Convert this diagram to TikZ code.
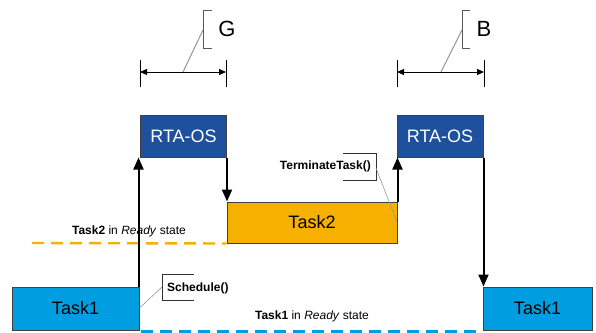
\documentclass[tikz,border=0pt]{standalone}
\usepackage{fontspec}
\setmainfont{Liberation Sans}
\usetikzlibrary{arrows.meta}
\definecolor{osblue}{RGB}{31,80,158}
\definecolor{taskone}{RGB}{0,158,224}
\definecolor{tasktwo}{RGB}{246,176,0}
\definecolor{leader}{RGB}{150,150,150}
\begin{document}
\begin{tikzpicture}[x=1pt,y=-1pt,
  blk/.style={draw=black!75, line width=1pt, inner sep=0pt, font=\fontsize{18}{20}\selectfont},
  osbox/.style={blk, fill=osblue, text=white, minimum width=86pt, minimum height=42pt},
  flow/.style={line width=2pt, -{Triangle[width=10pt,length=12pt]}},
  lbl/.style={inner sep=0pt, font=\fontsize{12}{14}\selectfont},
  call/.style={draw=black!80, line width=0.7pt},
  lead/.style={draw=leader, line width=0.6pt},
  dim/.style={line width=1pt},
  dimarr/.style={line width=1pt, {Triangle[width=6pt,length=7pt]}-{Triangle[width=6pt,length=7pt]}},
  big/.style={inner sep=0pt, font=\fontsize{22}{24}\selectfont}]
\useasboundingbox (0,0) rectangle (596,332);

% boxes
\node[osbox] (RTA1) at (183.5,136) {RTA-OS};
\node[osbox] (RTA2) at (440,136) {RTA-OS};
\node[blk, fill=taskone, minimum width=127pt, minimum height=43pt] (T1L) at (75.5,308.5) {Task1};
\node[blk, fill=tasktwo, minimum width=170pt, minimum height=41pt] (T2) at (312,222.5) {Task2};
\node[blk, fill=taskone, minimum width=109pt, minimum height=43pt] (T1R) at (537.5,308.5) {Task1};

% dashed ready lines
\coordinate (o1) at (32,243);
\draw[tasktwo, line width=2.4pt, dash pattern=on 12pt off 7pt] (o1) -- (T2.south west);
\draw[taskone, line width=2.4pt, dash pattern=on 12pt off 7pt] ([xshift=1pt,yshift=-1pt]T1L.south east) -- ([yshift=-1pt]T1R.south west);

% flow arrows
\draw[flow] ([xshift=-1pt]T1L.north east) -- ([xshift=-1pt]T1L.north east |- RTA1.south);
\draw[flow] (RTA1.south east) -- (RTA1.south east |- T2.north);
\draw[flow] (T2.north east) -- (T2.north east |- RTA2.south);
\draw[flow] (RTA2.south east) -- (RTA2.south east |- T1R.north);

% labels
\node[lbl] (L2) at (129,231) {\textbf{Task2} in \textit{Ready} state};
\node[lbl] (L1) at (312,316) {\textbf{Task1} in \textit{Ready} state};

% Schedule() callout
\coordinate (s1) at (194,274);
\coordinate (s2) at (162,274);
\coordinate (s3) at (162,300);
\coordinate (s4) at (194,300);
\coordinate (s5) at (162,287);
\draw[call] (s1) -- (s2) -- (s3) -- (s4);
\node[lbl, anchor=west] (sched) at (167,288) {\textbf{Schedule()}};
\draw[lead] ([yshift=-1pt]T1L.east |- 0,307) -- (s5);

% TerminateTask() callout
\coordinate (t1) at (343,153);
\coordinate (t2) at (376,153);
\coordinate (t3) at (376,180);
\coordinate (t4) at (343,180);
\coordinate (t5) at (376,168);
\coordinate (t6) at (397,222);
\draw[call] (t1) -- (t2) -- (t3) -- (t4);
\node[lbl, anchor=east] (term) at (371,166) {\textbf{TerminateTask()}};
\draw[lead] (t5) -- (t6);

% dimension G
\coordinate (ga) at (140,60); \coordinate (gb) at (140,87);
\coordinate (gc) at (226,60); \coordinate (gd) at (226,87);
\coordinate (ge) at (140,72); \coordinate (gf) at (226,72);
\coordinate (gm) at (183,72); \coordinate (gk) at (203,30);
\coordinate (gt1) at (212,10); \coordinate (gt2) at (203,10);
\coordinate (gt3) at (203,48); \coordinate (gt4) at (212,48);
\draw[dim] (ga) -- (gb);
\draw[dim] (gc) -- (gd);
\draw[dimarr] (ge) -- (gf);
\draw[lead, line width=1pt] (gm) -- (gk);
\draw[draw=black!65, line width=1pt] (gt1) -- (gt2) -- (gt3) -- (gt4);
\node[big] (G) at (227,29) {G};

% dimension B
\coordinate (ba) at (397,60); \coordinate (bb) at (397,87);
\coordinate (bc) at (484,60); \coordinate (bd) at (484,87);
\coordinate (be) at (397,72); \coordinate (bf) at (484,72);
\coordinate (bm) at (441,72); \coordinate (bk) at (462,30);
\coordinate (bt1) at (470,10); \coordinate (bt2) at (462,10);
\coordinate (bt3) at (462,48); \coordinate (bt4) at (470,48);
\draw[dim] (ba) -- (bb);
\draw[dim] (bc) -- (bd);
\draw[dimarr] (be) -- (bf);
\draw[lead, line width=1pt] (bm) -- (bk);
\draw[draw=black!65, line width=1pt] (bt1) -- (bt2) -- (bt3) -- (bt4);
\node[big] (B) at (484,29) {B};
\end{tikzpicture}
\end{document}
